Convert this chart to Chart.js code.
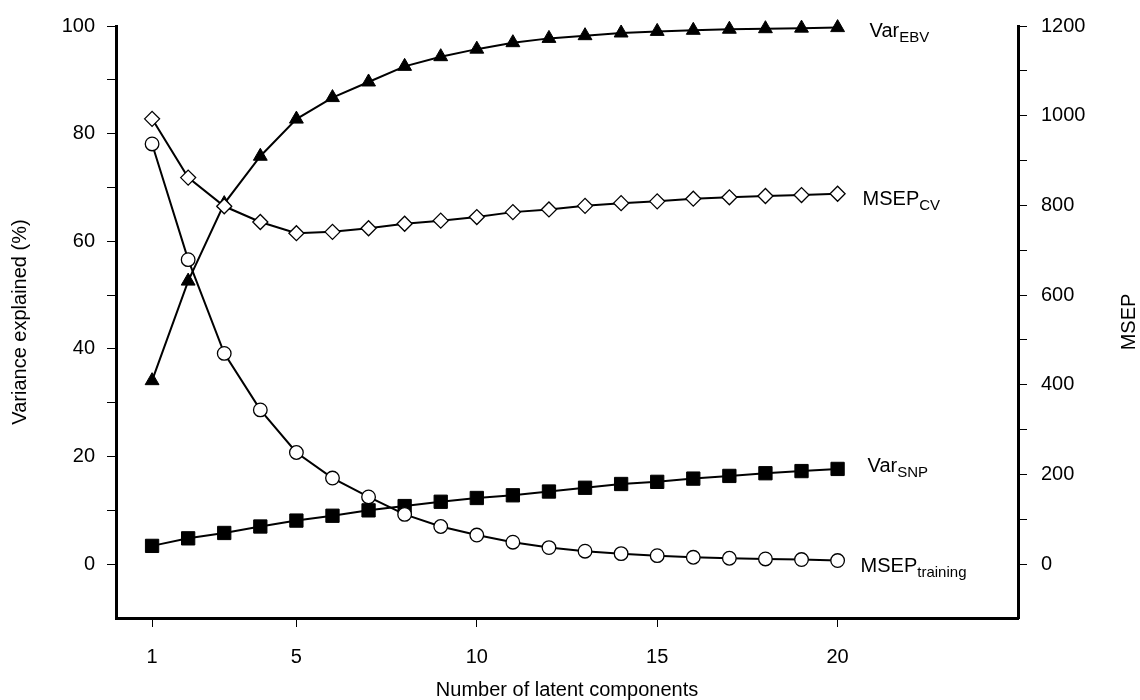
<!DOCTYPE html>
<html>
<head>
<meta charset="utf-8">
<script src="https://cdn.jsdelivr.net/npm/chart.js@4"></script>
<style>
  body { margin: 0; background: #fff; }
  #wrap { width: 1140px; height: 700px; }
</style>
</head>
<body>
<div id="wrap"><canvas id="chart" width="1140" height="700"></canvas></div>
<script>
// Number of latent components
const components = [1, 2, 3, 4, 5, 6, 7, 8, 9, 10, 11, 12, 13, 14, 15, 16, 17, 18, 19, 20];
const xTicks = [1, 5, 10, 15, 20];

// left axis: variance explained (%)
const varEBV = [34.1, 52.6, 67.0, 75.8, 82.7, 86.7, 89.6, 92.5, 94.3, 95.7,
                96.9, 97.7, 98.2, 98.7, 99.0, 99.2, 99.4, 99.5, 99.6, 99.7];
const varSNP = [3.4, 4.8, 5.8, 7.0, 8.1, 9.0, 10.0, 10.8, 11.6, 12.3,
                12.8, 13.5, 14.2, 14.9, 15.3, 15.9, 16.4, 16.9, 17.3, 17.7];

// right axis: MSEP
const msepCV = [993, 862, 798, 763, 738, 741, 749, 759, 766, 774,
                785, 791, 799, 805, 809, 815, 818, 821, 823, 826];
const msepTraining = [937, 679, 470, 344, 249, 192, 150, 111, 84, 65,
                      49, 37, 29, 23.5, 19, 15.4, 13.2, 11.7, 10.3, 8.1];

const FONT = "'Liberation Sans', Arial, sans-serif";
const FS = 20;

function pts(values) {
    return components.map((c, i) => ({ x: c, y: values[i] }));
}

// labels written next to the last point of each line
const seriesLabels = {
    cv:       { main: 'MSEP', sub: 'CV',       dx: 25, dy: 6 },
    training: { main: 'MSEP', sub: 'training', dx: 23, dy: 6 },
    ebv:      { main: 'Var',  sub: 'EBV',      dx: 32, dy: 4 },
    snp:      { main: 'Var',  sub: 'SNP',      dx: 30, dy: -2 },
};

const endLabels = {
    id: 'endLabels',
    afterDatasetsDraw(chart) {
        const ctx = chart.ctx;
        ctx.save();
        ctx.fillStyle = '#000';
        ctx.textAlign = 'left';
        ctx.textBaseline = 'middle';
        chart.data.datasets.forEach((ds, i) => {
            const lab = seriesLabels[ds.key];
            const meta = chart.getDatasetMeta(i);
            const last = meta.data[meta.data.length - 1];
            const x = last.x + lab.dx;
            const y = last.y + lab.dy;
            ctx.font = FS + 'px ' + FONT;
            ctx.fillText(lab.main, x, y);
            const w = ctx.measureText(lab.main).width;
            ctx.font = '15px ' + FONT;
            ctx.fillText(lab.sub, x + w, y + 6);
        });
        // right axis title, reading bottom to top
        const r = chart.scales.y2;
        ctx.font = FS + 'px ' + FONT;
        ctx.textAlign = 'center';
        ctx.translate(1129, (r.top + r.bottom) / 2);
        ctx.rotate(-Math.PI / 2);
        ctx.fillText('MSEP', 0, 0);
        ctx.restore();
    }
};

const axisCommon = {
    grid: { display: true, drawOnChartArea: false, drawTicks: true, tickLength: 9, color: '#000', lineWidth: 1 },
    border: { display: true, color: '#000', width: 3 },
};

new Chart(document.getElementById('chart'), {
    type: 'line',
    data: {
        datasets: [
            {
                key: 'cv', data: pts(msepCV), yAxisID: 'y2',
                borderColor: '#000', borderWidth: 2,
                pointStyle: 'rectRot', pointRadius: 7.5,
                pointBackgroundColor: '#fff', pointBorderColor: '#000', pointBorderWidth: 1.3
            },
            {
                key: 'training', data: pts(msepTraining), yAxisID: 'y2',
                borderColor: '#000', borderWidth: 2,
                pointStyle: 'circle', pointRadius: 6.8,
                pointBackgroundColor: '#fff', pointBorderColor: '#000', pointBorderWidth: 1.3
            },
            {
                key: 'ebv', data: pts(varEBV), yAxisID: 'y',
                borderColor: '#000', borderWidth: 2,
                pointStyle: 'triangle', pointRadius: 8,
                pointBackgroundColor: '#000', pointBorderColor: '#000', pointBorderWidth: 1
            },
            {
                key: 'snp', data: pts(varSNP), yAxisID: 'y',
                borderColor: '#000', borderWidth: 2,
                pointStyle: 'rect', pointRadius: 9.4,
                pointBackgroundColor: '#000', pointBorderColor: '#000', pointBorderWidth: 1
            }
        ]
    },
    options: {
        responsive: false,
        animation: false,
        clip: false,
        layout: { padding: { top: 20, left: 0, right: 0, bottom: 0 } },
        elements: { line: { tension: 0, fill: false } },
        plugins: {
            legend: { display: false },
            tooltip: { enabled: false }
        },
        scales: {
            x: {
                ...axisCommon,
                type: 'linear',
                position: 'bottom',
                min: 0,
                max: 25,
                afterBuildTicks: (scale) => { scale.ticks = xTicks.map(v => ({ value: v })); },
                afterFit: (scale) => { scale.height = 82; },
                ticks: { color: '#000', font: { family: FONT, size: FS }, padding: 18, maxRotation: 0, autoSkip: false },
                title: {
                    display: true, text: 'Number of latent components', color: '#000',
                    font: { family: FONT, size: FS }, padding: { top: 0, bottom: -2 }
                }
            },
            y: {
                ...axisCommon,
                position: 'left',
                min: -10,
                max: 100,
                afterBuildTicks: (scale) => { scale.ticks = scale.ticks.filter(t => t.value >= 0); },
                afterFit: (scale) => { scale.width = 116; },
                ticks: {
                    stepSize: 10, color: '#000', font: { family: FONT, size: FS }, padding: 12,
                    callback: (v) => (v % 20 === 0 ? v : '')
                },
                title: {
                    display: true, text: 'Variance explained (%)', color: '#000',
                    font: { family: FONT, size: FS }, padding: { top: 8, bottom: 0 }
                }
            },
            y2: {
                ...axisCommon,
                position: 'right',
                min: -120,
                max: 1200,
                afterBuildTicks: (scale) => { scale.ticks = scale.ticks.filter(t => t.value >= 0); },
                afterFit: (scale) => { scale.width = 122; },
                ticks: {
                    stepSize: 100, color: '#000', font: { family: FONT, size: FS }, padding: 14,
                    callback: (v) => (v % 200 === 0 ? v : '')
                }
            }
        }
    },
    plugins: [endLabels]
});
</script>
</body>
</html>
